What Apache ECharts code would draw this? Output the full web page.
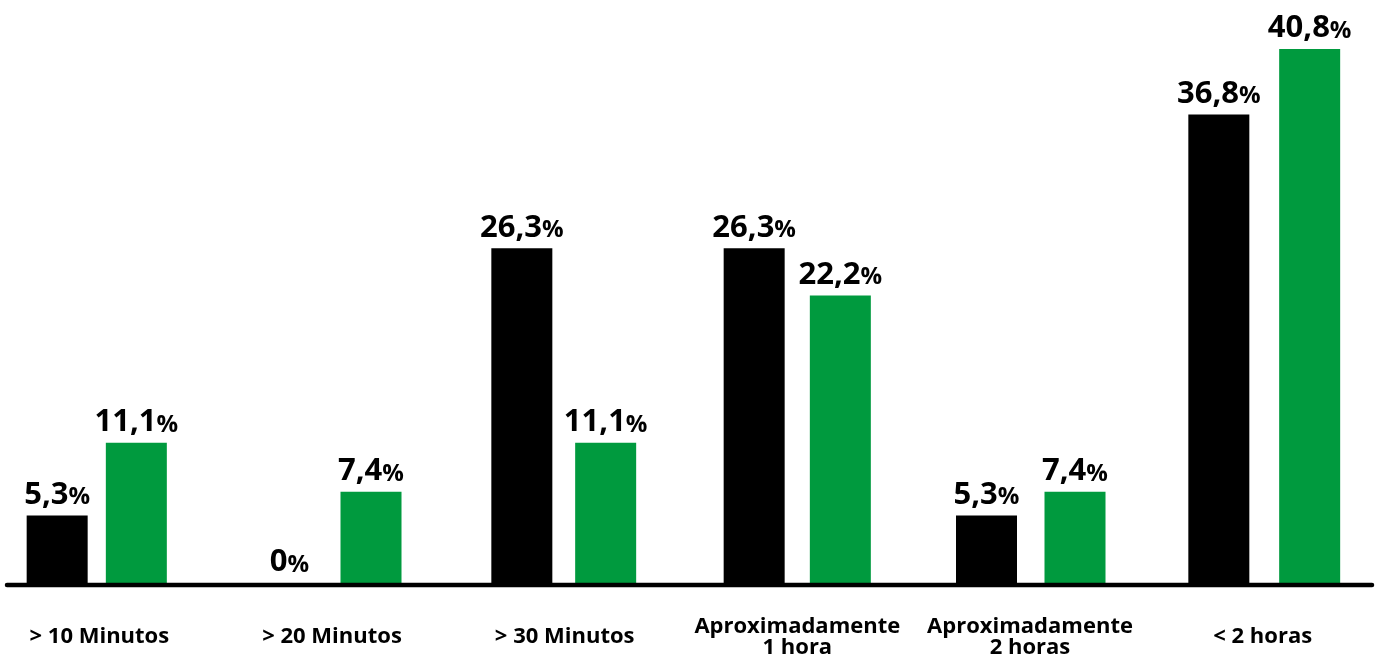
<!DOCTYPE html>
<html>
<head>
<meta charset="utf-8">
<script src="https://cdn.jsdelivr.net/npm/echarts@6/dist/echarts.min.js"></script>
<style>
html,body{margin:0;padding:0;background:#fff;}
#chart{width:1379px;height:655px;}
</style>
</head>
<body>
<div id="chart"></div>
<script>
const categories = ['> 10 Minutos', '> 20 Minutos', '> 30 Minutos', 'Aproximadamente\n1 hora', 'Aproximadamente\n2 horas', '< 2 horas'];
const seriesBlack = [5.3, 0, 26.3, 26.3, 5.3, 36.8];
const seriesGreen = [11.1, 7.4, 11.1, 22.2, 7.4, 40.8];

const FONT = '"Open Sans", sans-serif';

function labelFmt(p) {
  return '{n|' + String(p.value).replace('.', ',') + '}{p|%}';
}
const valueLabel = {
  show: true,
  position: 'top',
  distance: 5,
  formatter: labelFmt,
  rich: {
    n: { fontFamily: FONT, fontWeight: 'bold', fontSize: 31, color: '#000', lineHeight: 32, verticalAlign: 'bottom' },
    p: { fontFamily: FONT, fontWeight: 'bold', fontSize: 24, color: '#000', lineHeight: 32, verticalAlign: 'bottom', padding: [0, 0, 1, 0] }
  }
};

const TOP = 11, BOTTOM = 72;
const chart = echarts.init(document.getElementById('chart'), null, { renderer: 'canvas' });
chart.setOption({
  animation: false,
  backgroundColor: '#fff',
  grid: [
    { left: -17, right: 0, top: TOP, bottom: BOTTOM, outerBoundsMode: 'none', containLabel: false },
    { left: -59, right: 44, top: TOP, bottom: BOTTOM, outerBoundsMode: 'none', containLabel: false },
    { left: 19, right: -48, top: TOP, bottom: BOTTOM, outerBoundsMode: 'none', containLabel: false }
  ],
  xAxis: [
    {
      gridIndex: 0,
      type: 'category',
      data: categories,
      axisLine: { show: false },
      axisTick: { show: false },
      axisLabel: {
        interval: 0,
        margin: 54,
        verticalAlign: 'middle',
        fontFamily: FONT,
        fontWeight: 'bold',
        fontSize: 22,
        lineHeight: 21,
        color: '#000'
      }
    },
    { gridIndex: 1, type: 'category', data: categories, show: false },
    { gridIndex: 2, type: 'category', data: categories, show: false }
  ],
  yAxis: [
    { gridIndex: 0, type: 'value', min: 0, max: 44, show: false, splitLine: { show: false } },
    { gridIndex: 1, type: 'value', min: 0, max: 44.93, show: false, splitLine: { show: false } },
    { gridIndex: 2, type: 'value', min: 0.52, max: 43.67, show: false, splitLine: { show: false } }
  ],
  graphic: [{
    type: 'line',
    shape: { x1: 7, y1: 585, x2: 1372, y2: 585 },
    style: { stroke: '#000', lineWidth: 4.5, lineCap: 'round' },
    z: 100
  }],
  series: [
    {
      name: 'Série 1',
      type: 'bar',
      xAxisIndex: 1,
      yAxisIndex: 1,
      data: seriesBlack,
      barWidth: 61,
      clip: true,
      itemStyle: { color: '#000000' },
      label: valueLabel
    },
    {
      name: 'Série 2',
      type: 'bar',
      xAxisIndex: 2,
      yAxisIndex: 2,
      data: seriesGreen,
      barWidth: 61,
      clip: true,
      itemStyle: { color: '#009a3e' },
      label: valueLabel
    }
  ]
});
</script>
</body>
</html>
